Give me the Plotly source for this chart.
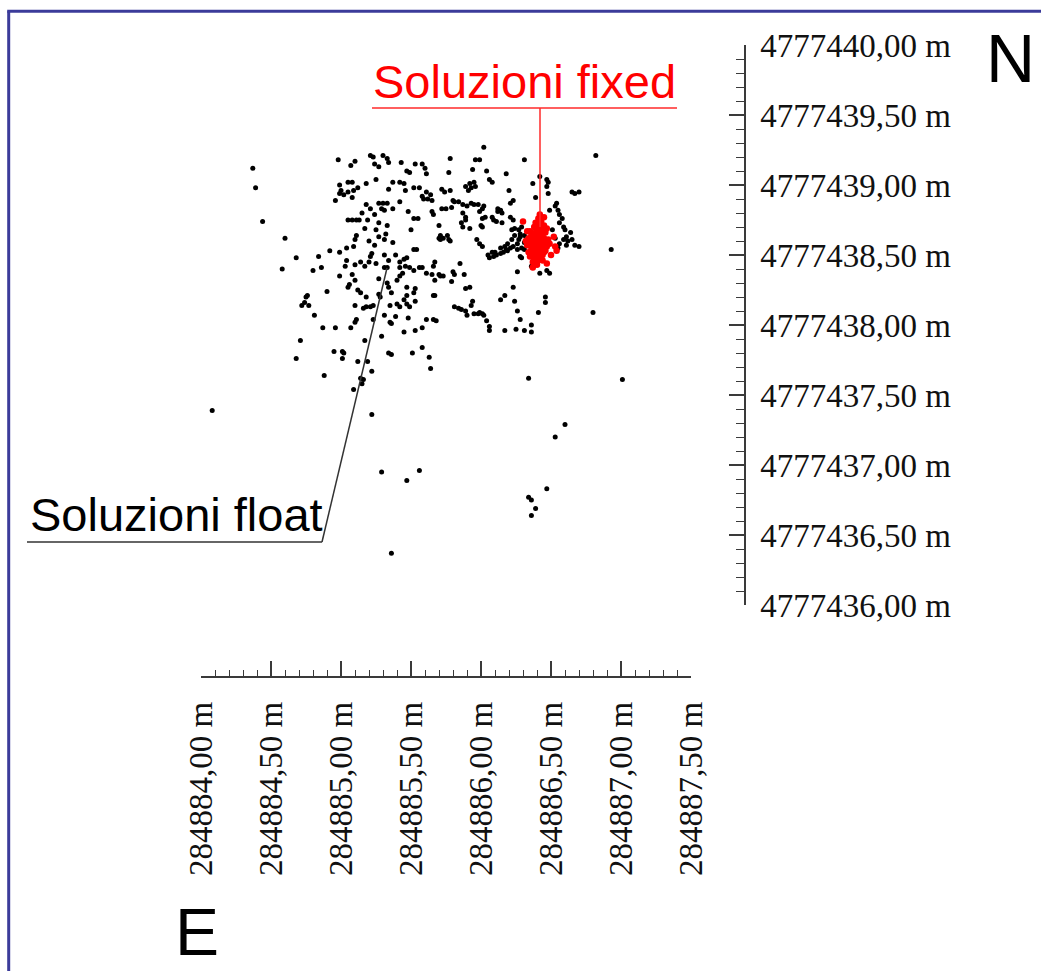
import plotly.graph_objects as go

# ---------------- data (offsets in metres from the axis origins) ----------------
EAST_ORIGIN = 284884.0
NORTH_ORIGIN = 4777436.0

# float solutions (east offset, north offset)
FLOAT_POINTS = [
    (0.37, 3.12), (0.39, 2.98), (0.44, 2.74), (0.60, 2.62), (0.68, 2.48), (0.58, 2.40), (0.76, 2.21),
    (0.80, 2.39), (0.84, 2.49), (0.86, 2.41), (0.90, 2.24), (0.92, 2.53),
    (0.98, 3.18), (1.07, 3.14), (1.10, 3.17), (1.21, 3.21), (1.23, 3.20), (1.30, 3.21), (1.33, 3.19),
    (1.24, 3.15), (1.27, 3.13), (1.34, 3.16), (1.43, 3.16), (1.47, 3.10), (1.49, 3.09), (1.53, 3.15),
    (1.58, 3.15), (1.60, 3.12), (1.61, 3.08), (1.78, 3.19), (1.77, 3.09),
    (0.99, 3.00), (1.00, 2.96), (0.99, 2.94), (1.05, 3.02), (1.08, 3.02), (1.09, 2.96), (1.12, 2.98),
    (1.05, 2.95), (1.02, 2.93), (1.08, 2.91), (1.18, 3.01), (1.25, 3.04), (1.34, 2.97), (1.37, 3.02),
    (1.42, 3.02), (1.45, 3.01), (1.46, 2.96), (1.52, 2.98), (1.56, 2.98), (1.58, 2.92), (1.61, 2.95),
    (1.62, 2.90), (1.64, 2.93), (1.65, 2.89), (1.59, 2.90), (1.72, 2.97), (1.74, 2.95), (1.78, 2.96),
    (1.80, 2.89), (1.84, 2.88), (1.79, 2.84), (1.75, 2.83), (1.72, 2.83),
    (0.96, 2.89), (1.18, 2.86), (1.21, 2.83), (1.24, 2.79), (1.27, 2.87), (1.30, 2.87), (1.33, 2.87),
    (1.29, 2.83), (1.31, 2.82), (1.37, 2.83), (1.42, 2.88), (1.48, 2.81), (1.52, 2.76), (1.55, 2.76),
    (1.65, 2.81), (1.66, 2.79), (1.70, 2.71),
    (1.05, 2.75), (1.08, 2.75), (1.11, 2.75), (1.13, 2.75), (1.15, 2.80), (1.19, 2.75), (1.17, 2.69),
    (1.25, 2.68), (1.27, 2.73), (1.33, 2.71), (1.32, 2.65), (1.50, 2.68),
    (1.11, 2.64), (1.10, 2.61), (1.09, 2.56), (1.20, 2.60), (1.24, 2.57), (1.27, 2.63), (1.31, 2.61),
    (1.37, 2.59), (1.52, 2.54), (1.54, 2.54), (1.71, 2.61), (1.73, 2.62), (1.76, 2.64), (1.78, 2.60),
    (1.70, 2.62), (0.99, 2.52), (1.04, 2.55),
    (1.04, 2.46), (1.03, 2.42), (1.10, 2.43), (1.14, 2.45), (1.17, 2.42), (1.20, 2.45), (1.21, 2.49),
    (1.22, 2.51), (1.25, 2.44), (1.31, 2.50), (1.34, 2.46), (1.31, 2.41), (1.33, 2.41), (1.39, 2.50),
    (1.42, 2.45), (1.45, 2.47), (1.47, 2.48), (1.42, 2.41), (1.46, 2.42), (1.49, 2.41), (1.52, 2.39),
    (1.56, 2.41), (1.58, 2.41), (1.61, 2.37), (1.65, 2.36), (1.70, 2.36), (1.73, 2.35), (1.80, 2.38),
    (1.81, 2.36), (1.66, 2.42), (1.67, 2.45),
    (0.99, 2.35), (1.08, 2.36), (1.10, 2.32), (1.05, 2.27), (1.06, 2.29), (1.27, 2.33), (1.33, 2.30),
    (1.34, 2.27), (1.40, 2.32), (1.42, 2.35), (1.44, 2.37), (1.47, 2.27), (1.53, 2.26), (1.67, 2.32),
    (1.71, 2.35), (1.79, 2.31), (1.12, 2.25), (1.14, 2.23), (1.18, 2.20), (1.27, 2.22), (1.28, 2.20),
    (1.66, 2.21), (1.47, 2.21), (1.52, 2.23),
    (0.75, 2.20), (0.72, 2.14), (0.74, 2.16), (0.77, 2.14), (0.81, 2.07), (0.87, 1.98), (0.96, 1.98),
    (1.07, 1.98), (0.71, 1.89), (0.68, 1.76), (0.95, 1.81), (1.01, 1.81), (1.02, 1.80), (1.01, 1.76),
    (0.88, 1.64), (0.08, 1.39), (1.12, 1.74), (1.19, 1.74), (1.17, 1.89), (1.22, 1.67), (1.14, 1.62),
    (1.16, 1.61), (1.15, 1.58), (1.09, 1.54), (1.22, 1.36), (1.10, 2.14), (1.16, 2.12), (1.18, 2.13),
    (1.21, 2.13), (1.23, 2.14), (1.11, 2.04), (1.10, 2.02), (1.23, 2.04), (1.29, 1.92), (1.31, 2.07),
    (1.36, 2.23), (1.35, 2.14), (1.40, 2.15), (1.42, 2.13), (1.45, 2.18), (1.47, 2.15), (1.49, 2.13),
    (1.53, 2.17), (1.39, 2.06), (1.35, 2.02), (1.36, 2.01), (1.45, 1.95), (1.48, 2.05), (1.53, 1.96),
    (1.58, 1.98), (1.61, 2.04), (1.66, 2.04), (1.68, 2.03), (1.67, 2.21), (1.34, 1.80), (1.36, 1.79),
    (1.51, 1.80), (1.58, 1.84), (1.63, 1.77), (1.64, 1.69),
    (1.29, 0.95), (1.47, 0.89), (1.56, 0.96), (1.36, 0.37), (0.99, -0.04),
    (1.81, 2.13), (1.84, 2.12), (1.86, 2.11), (1.89, 2.10), (1.90, 2.07), (1.93, 2.14), (1.94, 2.17),
    (1.95, 2.08), (1.98, 2.08), (1.99, 2.09), (2.01, 2.08), (2.02, 2.07), (2.04, 2.03), (2.06, 1.99),
    (2.06, 1.96), (2.14, 2.18), (2.17, 2.21), (2.24, 2.17), (2.26, 2.10), (2.28, 2.04), (2.17, 1.96),
    (2.25, 1.97), (2.31, 1.96), (2.36, 2.00), (2.36, 1.95), (2.41, 2.09), (2.46, 2.16), (2.46, 2.20),
    (2.80, 2.09), (2.34, 1.62), (3.01, 1.61), (2.60, 1.29), (2.53, 1.20), (2.47, 0.83), (2.34, 0.77),
    (2.36, 0.75), (2.39, 0.69), (2.36, 0.64),
    (2.02, 3.27), (1.96, 3.18), (1.99, 3.18), (1.94, 3.11), (2.04, 3.10), (2.06, 3.04), (2.08, 3.02),
    (2.18, 3.08), (2.31, 3.18), (2.82, 3.21), (1.89, 2.99), (1.92, 3.01), (1.95, 3.02), (1.93, 2.98),
    (1.96, 2.99), (1.91, 2.96), (2.20, 2.96), (2.37, 3.01), (2.42, 3.06), (2.47, 3.04), (2.48, 3.02),
    (2.47, 2.99), (2.48, 2.94), (2.39, 2.91), (2.65, 2.95), (2.67, 2.94), (2.70, 2.95), (1.81, 2.88),
    (1.87, 2.86), (1.90, 2.85), (1.93, 2.87), (1.95, 2.86), (1.98, 2.86), (1.87, 2.80), (1.89, 2.77),
    (1.89, 2.75), (1.99, 2.81), (2.01, 2.83), (2.02, 2.85), (2.12, 2.83), (2.14, 2.82), (2.15, 2.80),
    (2.12, 2.81), (2.21, 2.87), (2.23, 2.89), (2.01, 2.76), (2.03, 2.77), (2.08, 2.77), (2.09, 2.75),
    (2.11, 2.74), (2.15, 2.73), (2.21, 2.77), (2.23, 2.75), (1.86, 2.73), (1.87, 2.70), (1.92, 2.69),
    (2.00, 2.71), (2.01, 2.70), (1.71, 2.64), (1.77, 2.61), (1.97, 2.61), (1.99, 2.58), (2.01, 2.56),
    (2.06, 2.48), (2.09, 2.49), (2.11, 2.50), (2.14, 2.51), (2.16, 2.52), (2.18, 2.54), (2.21, 2.55),
    (2.23, 2.56), (2.26, 2.58), (2.27, 2.61), (2.28, 2.63), (2.24, 2.64), (2.22, 2.68), (2.24, 2.69),
    (2.27, 2.68), (2.28, 2.65), (2.29, 2.70), (2.10, 2.52), (2.14, 2.55), (2.17, 2.56), (2.19, 2.58),
    (2.22, 2.61), (2.19, 2.53), (2.08, 2.52), (2.05, 2.50), (2.31, 2.64), (2.31, 2.59), (2.29, 2.55),
    (2.26, 2.54),
    (2.49, 2.82), (2.53, 2.85), (2.54, 2.87), (2.55, 2.82), (2.56, 2.79), (2.58, 2.76), (2.56, 2.73),
    (2.59, 2.70), (2.60, 2.68), (2.61, 2.63), (2.62, 2.60), (2.61, 2.57), (2.59, 2.61), (2.56, 2.58),
    (2.55, 2.55), (2.51, 2.68), (2.53, 2.62), (2.64, 2.66), (2.65, 2.61), (2.67, 2.57), (2.70, 2.56),
    (2.93, 2.54), (2.31, 2.54), (2.29, 2.48), (2.28, 2.49), (2.36, 2.42), (2.42, 2.37), (2.47, 2.39),
    (2.49, 2.37), (2.26, 2.38), (2.23, 2.27), (1.89, 2.26), (1.92, 2.27), (1.88, 2.36), (1.85, 2.44),
]

# fixed solutions (east offset, north offset)
FIXED_POINTS = [
    (2.41, 2.60), (2.40, 2.62), (2.42, 2.58), (2.39, 2.59), (2.43, 2.61), (2.41, 2.64), (2.40, 2.56),
    (2.38, 2.62), (2.44, 2.57), (2.42, 2.66), (2.39, 2.66), (2.37, 2.58), (2.45, 2.62), (2.41, 2.53),
    (2.43, 2.54), (2.38, 2.54), (2.36, 2.61), (2.46, 2.59), (2.40, 2.69), (2.43, 2.68), (2.38, 2.70),
    (2.41, 2.51), (2.44, 2.65), (2.36, 2.65), (2.35, 2.59), (2.47, 2.56), (2.39, 2.50), (2.42, 2.49),
    (2.45, 2.52), (2.37, 2.52), (2.40, 2.72), (2.42, 2.71), (2.46, 2.66), (2.34, 2.62), (2.48, 2.61),
    (2.41, 2.47), (2.44, 2.50), (2.38, 2.48), (2.36, 2.55), (2.35, 2.67), (2.39, 2.73), (2.43, 2.74),
    (2.47, 2.69), (2.33, 2.57), (2.49, 2.58), (2.40, 2.45), (2.37, 2.45), (2.44, 2.46), (2.41, 2.76),
    (2.45, 2.71), (2.34, 2.52), (2.46, 2.53), (2.38, 2.64), (2.42, 2.62), (2.40, 2.58), (2.44, 2.59),
    (2.37, 2.60), (2.41, 2.67), (2.39, 2.55), (2.43, 2.56),
    (2.30, 2.74), (2.42, 2.79), (2.45, 2.77), (2.53, 2.56), (2.54, 2.53), (2.40, 2.43), (2.35, 2.49),
    (2.50, 2.50), (2.33, 2.67), (2.52, 2.63), (2.32, 2.60), (2.47, 2.44), (2.37, 2.41),
]

EAST_TICKS = [284884.0, 284884.5, 284885.0, 284885.5, 284886.0, 284886.5, 284887.0, 284887.5]
EAST_LABELS = ["284884,00 m", "284884,50 m", "284885,00 m", "284885,50 m",
               "284886,00 m", "284886,50 m", "284887,00 m", "284887,50 m"]
NORTH_TICKS = [4777436.0, 4777436.5, 4777437.0, 4777437.5, 4777438.0,
               4777438.5, 4777439.0, 4777439.5, 4777440.0]
NORTH_LABELS = ["4777436,00 m", "4777436,50 m", "4777437,00 m", "4777437,50 m", "4777438,00 m",
                "4777438,50 m", "4777439,00 m", "4777439,50 m", "4777440,00 m"]

# ---------------- layout helpers ----------------
W, H = 1041, 971


def px(x):
    return x / W


def py(y):
    return 1 - y / H


float_e = [EAST_ORIGIN + d[0] for d in FLOAT_POINTS]
float_n = [NORTH_ORIGIN + d[1] for d in FLOAT_POINTS]
fixed_e = [EAST_ORIGIN + d[0] for d in FIXED_POINTS]
fixed_n = [NORTH_ORIGIN + d[1] for d in FIXED_POINTS]

AX = "#3a3a3a"
SERIF = "Liberation Serif, Times New Roman, serif"
SANS = "Liberation Sans, Arial, sans-serif"

fig = go.Figure()
fig.add_trace(go.Scatter(x=float_e, y=float_n, mode="markers", name="Soluzioni float",
                         marker=dict(size=5, color="#000000"), cliponaxis=False, hoverinfo="skip"))
fig.add_trace(go.Scatter(x=fixed_e, y=fixed_n, mode="markers", name="Soluzioni fixed",
                         marker=dict(size=6.5, color="#ff0000"), cliponaxis=False, hoverinfo="skip"))

fig.update_layout(
    template="none",
    width=W, height=H, autosize=False,
    margin=dict(l=0, r=0, t=0, b=0, pad=0, autoexpand=False),
    paper_bgcolor="white", plot_bgcolor="white", showlegend=False,
    xaxis=dict(
        domain=[px(201), px(691)], range=[EAST_ORIGIN, EAST_ORIGIN + 3.5],
        anchor="free", position=py(677), automargin=False,
        showline=True, linecolor=AX, linewidth=1.5,
        ticks="inside", ticklen=15, tickwidth=1.5, tickcolor=AX,
        tickmode="array", tickvals=EAST_TICKS, ticktext=EAST_LABELS, tickangle=-90,
        tickfont=dict(family=SERIF, size=33, color="#111"),
        ticklabelstandoff=11,
        showgrid=False, zeroline=False,
        minor=dict(ticks="inside", ticklen=6, tickwidth=1.2, tickcolor=AX,
                   tickmode="linear", tick0=EAST_ORIGIN, dtick=0.1, showgrid=False),
    ),
    yaxis=dict(
        domain=[py(605), py(45)], range=[NORTH_ORIGIN, NORTH_ORIGIN + 4.0],
        anchor="free", position=px(745), side="right", automargin=False,
        showline=True, linecolor=AX, linewidth=1.5,
        ticks="inside", ticklen=15, tickwidth=1.5, tickcolor=AX,
        tickmode="array", tickvals=NORTH_TICKS, ticktext=NORTH_LABELS,
        tickfont=dict(family=SERIF, size=33, color="#111"),
        ticklabelstandoff=8,
        showgrid=False, zeroline=False,
        minor=dict(ticks="inside", ticklen=8, tickwidth=1.2, tickcolor=AX,
                   tickmode="linear", tick0=NORTH_ORIGIN, dtick=0.1, showgrid=False),
    ),
)

BORDER = "#3b3b9a"
shapes = [
    dict(type="line", xref="paper", yref="paper", x0=px(8.7), y0=py(975), x1=px(8.7), y1=py(11.3),
         line=dict(color=BORDER, width=3)),
    dict(type="line", xref="paper", yref="paper", x0=px(7.2), y0=py(11.3), x1=px(1045), y1=py(11.3),
         line=dict(color=BORDER, width=3)),
    # float leader
    dict(type="line", xref="paper", yref="paper", x0=px(27), y0=py(542), x1=px(322), y1=py(542),
         line=dict(color="#333333", width=1.5)),
    dict(type="line", xref="paper", yref="paper", x0=px(322), y0=py(542), x1=px(387), y1=py(268),
         line=dict(color="#333333", width=1.5)),
    # fixed leader
    dict(type="line", xref="paper", yref="paper", x0=px(372), y0=py(108), x1=px(677), y1=py(108),
         line=dict(color="#ff2a2a", width=1.5)),
    dict(type="line", xref="paper", yref="paper", x0=px(540), y0=py(108), x1=px(540), y1=py(227),
         line=dict(color="#ff2a2a", width=1.5)),
]
fig.update_layout(shapes=shapes)

annotations = [
    dict(text="Soluzioni fixed", x=px(370.5), y=py(53), xref="paper", yref="paper",
         xanchor="left", yanchor="top", showarrow=False,
         font=dict(family=SANS, size=47, color="#ff0000")),
    dict(text="Soluzioni float", x=px(27.5), y=py(486), xref="paper", yref="paper",
         xanchor="left", yanchor="top", showarrow=False,
         font=dict(family=SANS, size=47, color="#000000")),
    dict(text="N", x=px(984), y=py(18), xref="paper", yref="paper",
         xanchor="left", yanchor="top", showarrow=False,
         font=dict(family=SANS, size=68, color="#000000")),
    dict(text="E", x=px(173), y=py(893), xref="paper", yref="paper",
         xanchor="left", yanchor="top", showarrow=False,
         font=dict(family=SANS, size=66, color="#000000")),
]
fig.update_layout(annotations=annotations)

fig.write_html("out.html", config={"displayModeBar": False},
               post_script="document.body.style.margin='0';")
